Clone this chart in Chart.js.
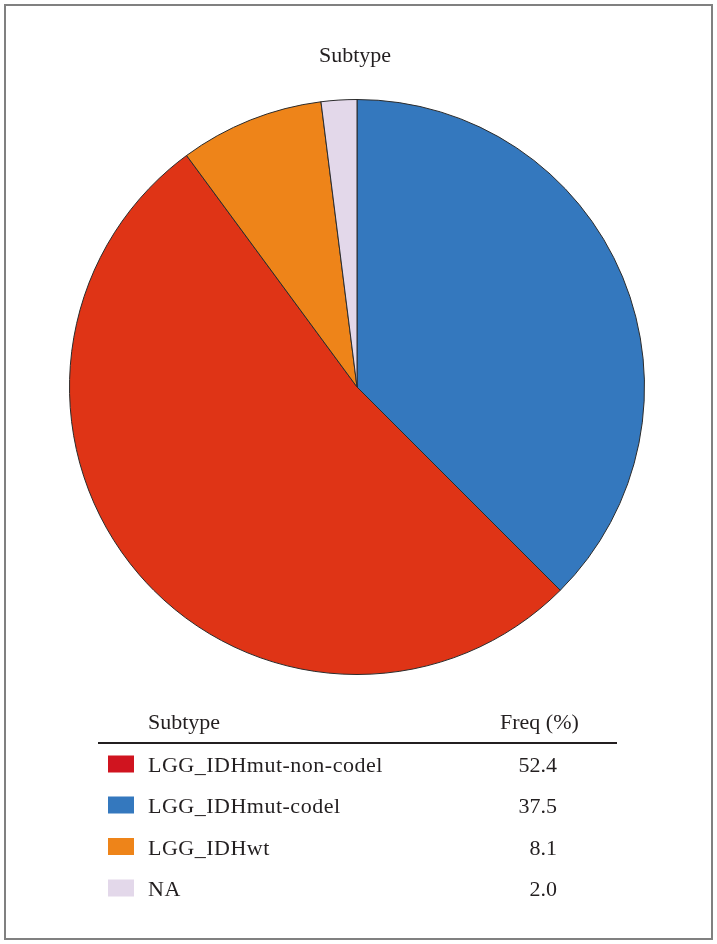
<!DOCTYPE html>
<html>
<head>
<meta charset="utf-8">
<script src="https://cdn.jsdelivr.net/npm/chart.js@4/dist/chart.umd.min.js"></script>
<style>
html,body{margin:0;padding:0;background:#fff;}
#wrap{position:relative;width:717px;height:944px;}
</style>
</head>
<body>
<div id="wrap"><canvas id="c" width="717" height="944"></canvas></div>
<script>
// ---- data ----
const chartTitle = "Subtype";
const categories = ["LGG_IDHmut-non-codel", "LGG_IDHmut-codel", "LGG_IDHwt", "NA"];
const freqs = [52.4, 37.5, 8.1, 2.0];
const freqLabels = ["52.4", "37.5", "8.1", "2.0"];
const sliceColors = ["#df3416", "#3478be", "#ee8419", "#e3d8ea"];
const legendColors = ["#d0141f", "#3478be", "#ee8419", "#e3d8ea"];
const tableHeaders = ["Subtype", "Freq (%)"];
// order of slices clockwise from 12 o'clock
const pieOrder = [1, 0, 2, 3];

const FONT = "'Liberation Serif', 'DejaVu Serif', serif";
const TXT = "#231f20";

const overlay = {
  id: 'overlay',
  afterDraw(chart) {
    const ctx = chart.ctx;
    ctx.save();
    // frame
    ctx.strokeStyle = "#808080";
    ctx.lineWidth = 2;
    ctx.strokeRect(5, 5, 707, 934);
    // title
    ctx.fillStyle = TXT;
    ctx.font = "22px " + FONT;
    ctx.textAlign = "center";
    ctx.textBaseline = "alphabetic";
    ctx.fillText(chartTitle, 355, 62);
    // table header
    ctx.textAlign = "left";
    ctx.fillText(tableHeaders[0], 148, 729);
    ctx.fillText(tableHeaders[1], 500, 729);
    // rule
    ctx.strokeStyle = "#231f20";
    ctx.lineWidth = 2;
    ctx.beginPath();
    ctx.moveTo(98, 743);
    ctx.lineTo(617, 743);
    ctx.stroke();
    // rows
    const rowY = [764, 805, 846.5, 888];
    categories.forEach((cat, i) => {
      ctx.fillStyle = legendColors[i];
      ctx.fillRect(108, rowY[i] - 8.5, 26, 17);
      ctx.fillStyle = TXT;
      ctx.textAlign = "left";
      ctx.letterSpacing = "0.5px";
      ctx.fillText(cat, 148, rowY[i] + 8);
      ctx.letterSpacing = "0px";
      ctx.textAlign = "right";
      ctx.fillText(freqLabels[i], 557, rowY[i] + 8);
    });
    ctx.restore();
  }
};

new Chart(document.getElementById('c'), {
  type: 'pie',
  data: {
    labels: pieOrder.map(i => categories[i]),
    datasets: [{
      data: pieOrder.map(i => freqs[i]),
      backgroundColor: pieOrder.map(i => sliceColors[i]),
      borderColor: "#2b2b2b",
      borderWidth: 1
    }]
  },
  options: {
    responsive: false,
    animation: false,
    layout: { padding: { left: 69, right: 72, top: 99, bottom: 269 } },
    plugins: {
      legend: { display: false },
      tooltip: { enabled: false },
      title: { display: false }
    }
  },
  plugins: [overlay]
});
</script>
</body>
</html>
